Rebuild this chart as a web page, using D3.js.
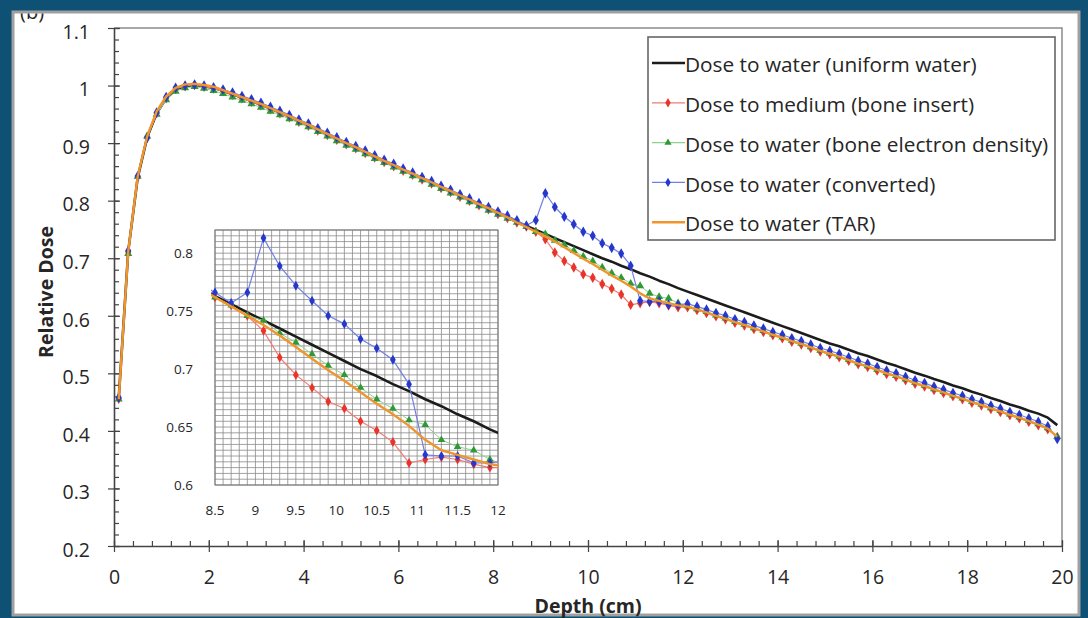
<!DOCTYPE html>
<html>
<head>
<meta charset="utf-8">
<script src="https://cdn.jsdelivr.net/npm/d3@7"></script>
<style>
body { margin: 0; background: #0f5174; }
text { font-family: "Open Sans", sans-serif; fill: #262626; }
</style>
</head>
<body>
<svg width="1088" height="618"></svg>
<script>
var svg = d3.select("svg");

// depth of each scored point (cm)
var depth = [0.1, 0.3, 0.5, 0.7, 0.9, 1.1, 1.3, 1.5, 1.7, 1.9,
  2.1, 2.3, 2.5, 2.7, 2.9, 3.1, 3.3, 3.5, 3.7, 3.9,
  4.1, 4.3, 4.5, 4.7, 4.9, 5.1, 5.3, 5.5, 5.7, 5.9,
  6.1, 6.3, 6.5, 6.7, 6.9, 7.1, 7.3, 7.5, 7.7, 7.9,
  8.1, 8.3, 8.5, 8.7, 8.9, 9.1, 9.3, 9.5, 9.7, 9.9,
  10.1, 10.3, 10.5, 10.7, 10.9, 11.1, 11.3, 11.5, 11.7, 11.9,
  12.1, 12.3, 12.5, 12.7, 12.9, 13.1, 13.3, 13.5, 13.7, 13.9,
  14.1, 14.3, 14.5, 14.7, 14.9, 15.1, 15.3, 15.5, 15.7, 15.9,
  16.1, 16.3, 16.5, 16.7, 16.9, 17.1, 17.3, 17.5, 17.7, 17.9,
  18.1, 18.3, 18.5, 18.7, 18.9, 19.1, 19.3, 19.5, 19.7, 19.9];

var uniformWater = [0.457, 0.712, 0.840, 0.910, 0.952, 0.978, 0.993, 0.999, 1.001, 0.999,
  0.996, 0.991, 0.985, 0.979, 0.973, 0.967, 0.960, 0.953, 0.946, 0.938,
  0.931, 0.923, 0.915, 0.907, 0.899, 0.892, 0.884, 0.876, 0.868, 0.861,
  0.853, 0.846, 0.838, 0.831, 0.823, 0.816, 0.808, 0.801, 0.793, 0.786,
  0.778, 0.771, 0.763, 0.756, 0.749, 0.742, 0.735, 0.728, 0.721, 0.714,
  0.707, 0.700, 0.694, 0.687, 0.681, 0.674, 0.668, 0.661, 0.655, 0.648,
  0.642, 0.636, 0.630, 0.624, 0.618, 0.612, 0.606, 0.600, 0.594, 0.588,
  0.582, 0.576, 0.570, 0.564, 0.558, 0.552, 0.547, 0.541, 0.535, 0.530,
  0.524, 0.518, 0.513, 0.507, 0.501, 0.496, 0.490, 0.485, 0.479, 0.474,
  0.468, 0.463, 0.457, 0.452, 0.446, 0.441, 0.435, 0.430, 0.423, 0.410];

var boneMedium = [0.456, 0.711, 0.841, 0.911, 0.952, 0.978, 0.994, 0.999, 1.001, 0.998,
  0.995, 0.990, 0.984, 0.978, 0.972, 0.966, 0.959, 0.952, 0.945, 0.937,
  0.930, 0.922, 0.914, 0.906, 0.898, 0.891, 0.883, 0.875, 0.867, 0.860,
  0.852, 0.845, 0.837, 0.830, 0.822, 0.815, 0.807, 0.800, 0.792, 0.785,
  0.777, 0.770, 0.762, 0.755, 0.746, 0.733, 0.710, 0.695, 0.684, 0.672,
  0.666, 0.655, 0.647, 0.637, 0.619, 0.622, 0.624, 0.622, 0.618, 0.615,
  0.615, 0.610, 0.605, 0.599, 0.594, 0.588, 0.583, 0.577, 0.572, 0.566,
  0.561, 0.555, 0.550, 0.544, 0.538, 0.533, 0.528, 0.522, 0.516, 0.511,
  0.505, 0.499, 0.494, 0.488, 0.482, 0.477, 0.471, 0.466, 0.460, 0.455,
  0.449, 0.444, 0.438, 0.433, 0.427, 0.422, 0.416, 0.410, 0.403, 0.389];

var boneDensity = [0.455, 0.708, 0.842, 0.912, 0.950, 0.975, 0.990, 0.996, 0.998, 0.995,
  0.991, 0.986, 0.980, 0.974, 0.968, 0.962, 0.955, 0.949, 0.942, 0.935,
  0.928, 0.920, 0.912, 0.904, 0.896, 0.889, 0.881, 0.873, 0.866, 0.858,
  0.851, 0.843, 0.836, 0.828, 0.821, 0.813, 0.806, 0.798, 0.791, 0.783,
  0.776, 0.769, 0.762, 0.755, 0.746, 0.742, 0.731, 0.723, 0.713, 0.703,
  0.695, 0.684, 0.674, 0.666, 0.656, 0.652, 0.639, 0.633, 0.630, 0.622,
  0.617, 0.612, 0.607, 0.601, 0.596, 0.590, 0.585, 0.579, 0.574, 0.568,
  0.563, 0.557, 0.552, 0.546, 0.540, 0.535, 0.530, 0.524, 0.518, 0.513,
  0.507, 0.501, 0.496, 0.490, 0.484, 0.479, 0.473, 0.468, 0.462, 0.457,
  0.451, 0.446, 0.440, 0.435, 0.429, 0.424, 0.418, 0.412, 0.405, 0.390];

var converted = [0.458, 0.713, 0.843, 0.909, 0.953, 0.980, 0.996, 1.000, 1.002, 1.000,
  0.997, 0.993, 0.988, 0.982, 0.976, 0.970, 0.963, 0.956, 0.949, 0.941,
  0.934, 0.926, 0.918, 0.910, 0.902, 0.895, 0.887, 0.879, 0.871, 0.864,
  0.856, 0.849, 0.841, 0.834, 0.826, 0.819, 0.811, 0.804, 0.796, 0.789,
  0.781, 0.774, 0.766, 0.757, 0.766, 0.813, 0.789, 0.772, 0.759, 0.746,
  0.739, 0.726, 0.718, 0.708, 0.687, 0.626, 0.625, 0.625, 0.619, 0.619,
  0.621, 0.616, 0.611, 0.605, 0.600, 0.594, 0.589, 0.583, 0.578, 0.572,
  0.567, 0.561, 0.556, 0.550, 0.544, 0.539, 0.534, 0.528, 0.522, 0.517,
  0.511, 0.505, 0.500, 0.494, 0.488, 0.483, 0.477, 0.472, 0.466, 0.461,
  0.455, 0.450, 0.444, 0.439, 0.433, 0.428, 0.422, 0.416, 0.408, 0.386];

var tar = [0.455, 0.712, 0.842, 0.912, 0.955, 0.981, 0.996, 1.002, 1.003, 1.001,
  0.998, 0.992, 0.986, 0.980, 0.974, 0.968, 0.961, 0.954, 0.947, 0.939,
  0.932, 0.924, 0.916, 0.908, 0.900, 0.893, 0.885, 0.877, 0.869, 0.862,
  0.854, 0.847, 0.839, 0.832, 0.824, 0.817, 0.809, 0.802, 0.794, 0.787,
  0.779, 0.771, 0.762, 0.754, 0.746, 0.738, 0.729, 0.719, 0.709, 0.699,
  0.690, 0.680, 0.670, 0.661, 0.651, 0.639, 0.630, 0.626, 0.622, 0.618,
  0.616, 0.611, 0.606, 0.600, 0.595, 0.589, 0.584, 0.578, 0.573, 0.567,
  0.562, 0.556, 0.551, 0.545, 0.539, 0.534, 0.529, 0.523, 0.517, 0.512,
  0.506, 0.500, 0.495, 0.489, 0.483, 0.478, 0.472, 0.467, 0.461, 0.456,
  0.450, 0.445, 0.439, 0.434, 0.428, 0.423, 0.417, 0.411, 0.404, 0.390];

var xTicks = [0, 2, 4, 6, 8, 10, 12, 14, 16, 18, 20];
var yTicks = [0.2, 0.3, 0.4, 0.5, 0.6, 0.7, 0.8, 0.9, 1, 1.1];
var insetXTicks = [8.5, 9, 9.5, 10, 10.5, 11, 11.5, 12];
var insetYTicks = [0.6, 0.65, 0.7, 0.75, 0.8];

var series = [
  { name: "Dose to water (uniform water)", values: uniformWater, stroke: "#1c1c1c", width: 2.6, symbol: null },
  { name: "Dose to medium (bone insert)", values: boneMedium, stroke: "#f27a72", fill: "#e8352b", width: 1.2, symbol: d3.symbolDiamond, size: 32 },
  { name: "Dose to water (bone electron density)", values: boneDensity, stroke: "#8fd08f", fill: "#2f9a35", width: 1, symbol: d3.symbolTriangle, size: 28 },
  { name: "Dose to water (converted)", values: converted, stroke: "#6f7fe6", fill: "#2638cc", width: 1.2, symbol: d3.symbolDiamond, size: 32 },
  { name: "Dose to water (TAR)", values: tar, stroke: "#f0952c", width: 2.4, symbol: null }
];

// panel
svg.append("rect").attr("x", 13).attr("y", 12).attr("width", 1066).attr("height", 603)
  .attr("fill", "#fff").attr("stroke", "#a0a0a0").attr("stroke-width", 3);

svg.append("clipPath").attr("id", "panel").append("rect")
  .attr("x", 14).attr("y", 13.5).attr("width", 1063).attr("height", 600);
svg.append("text").attr("clip-path", "url(#panel)").attr("x", 20).attr("y", 19)
  .style("font-size", "20px").text("(b)");
svg.append("text").attr("clip-path", "url(#panel)").attr("x", 20).attr("y", 629)
  .style("font-size", "20px").text("(c)");

var x = d3.scaleLinear().domain([0, 20]).range([114, 1062]);
var y = d3.scaleLinear().domain([0.2, 1.1]).range([546, 28]);

// frame top and right
svg.append("path").attr("d", "M" + x(0) + "," + y(1.1) + "H" + x(20) + "V" + y(0.2))
  .attr("fill", "none").attr("stroke", "#8c8c8c").attr("stroke-width", 1.5);

// minor ticks
svg.append("g").attr("transform", "translate(0," + y(0.2) + ")")
  .call(d3.axisBottom(x).tickValues(d3.range(0, 20.01, 0.4)).tickSize(-5).tickFormat(""))
  .call(g => g.select(".domain").remove())
  .selectAll("line").attr("stroke", "#444");
svg.append("g").attr("transform", "translate(" + x(0) + ",0)")
  .call(d3.axisLeft(y).tickValues(d3.range(0.2, 1.1001, 0.02)).tickSize(-5).tickFormat(""))
  .call(g => g.select(".domain").remove())
  .selectAll("line").attr("stroke", "#444");

var xAxis = svg.append("g").attr("transform", "translate(0," + y(0.2) + ")")
  .call(d3.axisBottom(x).tickValues(xTicks).tickSize(6).tickPadding(18).tickSizeOuter(0));
xAxis.selectAll(".tick line").attr("y1", -6);
xAxis.selectAll("text").style("font-size", "19.5px");

var yAxis = svg.append("g").attr("transform", "translate(" + x(0) + ",0)")
  .call(d3.axisLeft(y).tickValues(yTicks).tickSize(6).tickPadding(18).tickSizeOuter(0)
    .tickFormat(d => d3.format("")(+d.toFixed(1))));
yAxis.selectAll(".tick line").attr("x1", 6);
yAxis.selectAll("text").attr("y", 4).style("font-size", "19.5px");

svg.selectAll(".domain").attr("stroke", "#444").attr("stroke-width", 1.6);
svg.selectAll(".tick line").attr("stroke", "#444").attr("stroke-width", 1.2);
svg.selectAll(".tick text").attr("fill", "#333");

svg.append("text").attr("transform", "translate(46,292) rotate(-90)")
  .attr("text-anchor", "middle").attr("dy", "0.35em")
  .style("font-size", "19.5px").style("font-weight", "bold")
  .text("Relative Dose");
svg.append("text").attr("x", 588).attr("y", 606).attr("dy", "0.35em").attr("text-anchor", "middle")
  .style("font-size", "19.5px").style("font-weight", "bold").text("Depth (cm)");

function drawSeries(g, xs, ys, scale) {
  series.forEach(function (s) {
    var pts = depth.map((d, i) => [d, s.values[i]]);
    g.append("path").datum(pts)
      .attr("fill", "none").attr("stroke", s.stroke).attr("stroke-width", s.width)
      .attr("stroke-linejoin", "round")
      .attr("d", d3.line().x(d => xs(d[0])).y(d => ys(d[1])));
    if (s.symbol) {
      g.selectAll(null).data(pts).enter().append("path")
        .attr("transform", d => "translate(" + xs(d[0]) + "," + ys(d[1]) + ")")
        .attr("d", d3.symbol(s.symbol, s.size * scale))
        .attr("fill", s.fill);
    }
  });
}

var main = svg.append("g");
drawSeries(main, x, y, 1);

// inset
var xi = d3.scaleLinear().domain([8.5, 12]).range([215, 498]);
var yi = d3.scaleLinear().domain([0.6, 0.82]).range([485, 230]);

var inset = svg.append("g");
inset.append("rect").attr("x", xi(8.5)).attr("y", yi(0.82))
  .attr("width", xi(12) - xi(8.5)).attr("height", yi(0.6) - yi(0.82)).attr("fill", "#fff");
inset.selectAll(".vg").data(d3.range(8.5, 12.001, 0.1)).enter().append("line")
  .attr("x1", d => xi(d)).attr("x2", d => xi(d)).attr("y1", yi(0.6)).attr("y2", yi(0.82))
  .attr("stroke", "#8a8a8a").attr("stroke-width", 0.8);
inset.selectAll(".hg").data(d3.range(0.6, 0.8201, 0.005)).enter().append("line")
  .attr("y1", d => yi(d)).attr("y2", d => yi(d)).attr("x1", xi(8.5)).attr("x2", xi(12))
  .attr("stroke", "#8a8a8a").attr("stroke-width", 0.8);
inset.append("rect").attr("x", xi(8.5)).attr("y", yi(0.82))
  .attr("width", xi(12) - xi(8.5)).attr("height", yi(0.6) - yi(0.82))
  .attr("fill", "none").attr("stroke", "#777").attr("stroke-width", 1);

svg.append("clipPath").attr("id", "insetClip").append("rect")
  .attr("x", xi(8.5) - 4).attr("y", yi(0.82)).attr("width", xi(12) - xi(8.5) + 4).attr("height", yi(0.6) - yi(0.82));
var insetData = inset.append("g").attr("clip-path", "url(#insetClip)");
drawSeries(insetData, xi, yi, 0.9);

inset.selectAll(".ixl").data(insetXTicks).enter().append("text")
  .attr("x", d => xi(d)).attr("y", 510).attr("dy", "0.35em").attr("text-anchor", "middle")
  .style("font-size", "13.5px").attr("fill", "#333").text(d => d);
inset.selectAll(".iyl").data(insetYTicks).enter().append("text")
  .attr("x", 193).attr("y", d => yi(d)).attr("dy", "0.35em").attr("text-anchor", "end")
  .style("font-size", "13.5px").attr("fill", "#333").text(d => d);

// legend
var legend = svg.append("g");
legend.append("rect").attr("x", 648).attr("y", 37).attr("width", 407).attr("height", 203)
  .attr("fill", "#fff").attr("stroke", "#666").attr("stroke-width", 1.6);
series.forEach(function (s, i) {
  var ly = 63 + i * 39.8;
  legend.append("line").attr("x1", 652).attr("x2", 685).attr("y1", ly).attr("y2", ly)
    .attr("stroke", s.stroke).attr("stroke-width", s.symbol ? 1.2 : s.width);
  if (s.symbol) {
    legend.append("path").attr("transform", "translate(668," + ly + ")")
      .attr("d", d3.symbol(s.symbol, s.size * 0.8)).attr("fill", s.fill);
  }
  legend.append("text").attr("x", 685).attr("y", ly + 2).attr("dy", "0.35em")
    .style("font-size", "20.8px").text(s.name);
});
</script>
</body>
</html>
